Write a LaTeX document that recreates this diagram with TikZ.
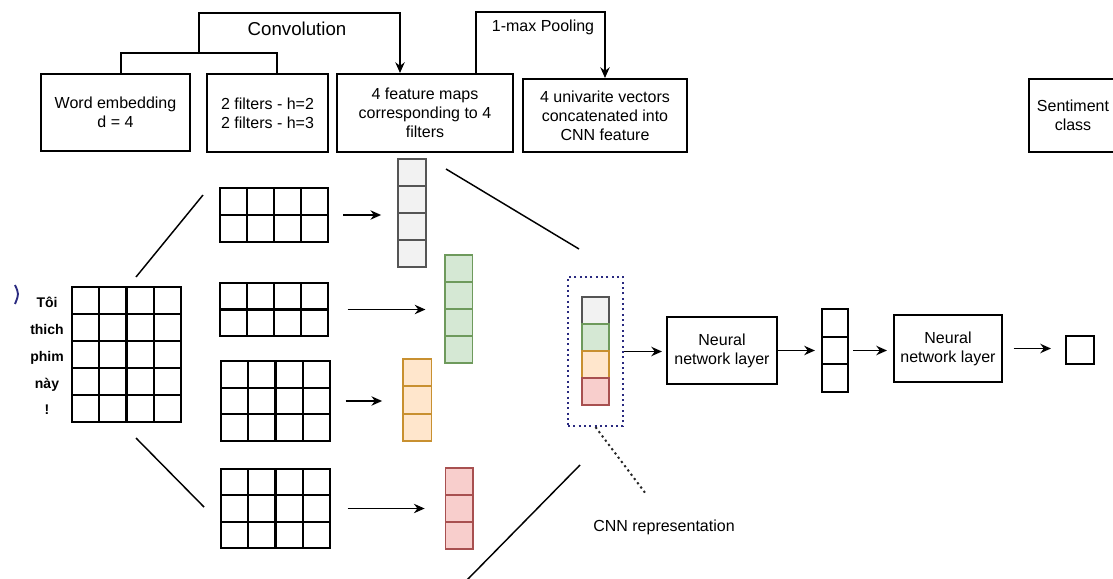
\documentclass[tikz,border=0pt]{standalone}
\usepackage{fontspec}
\setmainfont{Liberation Sans}
\usetikzlibrary{calc,arrows.meta}

\definecolor{grayfill}{HTML}{F2F2F2}
\definecolor{graydraw}{HTML}{555555}
\definecolor{greenfill}{HTML}{D5E8D4}
\definecolor{greendraw}{HTML}{6E9A5C}
\definecolor{orangefill}{HTML}{FFE6CC}
\definecolor{orangedraw}{HTML}{C89030}
\definecolor{redfill}{HTML}{F8CECC}
\definecolor{reddraw}{HTML}{A85050}
\definecolor{framecol}{HTML}{2A2A80}

\newcommand{\boxfont}{\fontsize{12}{14.25}\selectfont}
\newcommand{\convfont}{\fontsize{14}{16}\selectfont}
\newcommand{\wordfont}{\bfseries\fontsize{10.5}{12}\selectfont}

\tikzset{
  box/.style={draw, line width=1.5pt, align=center, inner sep=2pt, font=\boxfont},
  link/.style={line width=1.4pt},
  arr/.style={line width=1.4pt, -{Stealth[length=8pt, width=7pt]}},
  fan/.style={line width=1.1pt},
  gridcell/.style={draw=black, fill=white, line width=1.6pt},
  mapgray/.style={draw=graydraw, fill=grayfill, line width=1.3pt},
  mapgreen/.style={draw=greendraw, fill=greenfill, line width=1.3pt},
  maporange/.style={draw=orangedraw, fill=orangefill, line width=1.3pt},
  mapred/.style={draw=reddraw, fill=redfill, line width=1.3pt},
  cnnframe/.style={draw=framecol, line width=1.6pt, dash pattern=on 1.6pt off 2.4pt},
  leader/.style={draw=black!85, line width=1.5pt, dash pattern=on 1.6pt off 2.4pt},
  word/.style={font=\wordfont, anchor=base}
}

% name, left, bottom, cols, rows, cell width, cell height, style
\newcommand{\cellgrid}[8]{%
  \begin{scope}[shift={(#2,#3)}, x={(#6,0)}, y={(0,-#7)}]
    \node[#8, inner sep=0pt, minimum width={#4*#6*0.75pt}, minimum height={#5*#7*0.75pt}] (#1) at ({#4/2},{#5/2}) {};
    \draw[#8, fill=none, step=1] (0,0) grid (#4,#5);
  \end{scope}}

\begin{document}
\begin{tikzpicture}[x=0.75pt, y=-0.75pt]
\useasboundingbox (0,0) rectangle (1113,578);

% top row
\node[box, minimum width=111.75pt, minimum height=57.75pt] (emb) at (115.5,112.5) {Word embedding\\d = 4};
\node[box, minimum width=90.75pt, minimum height=58.5pt] (filt) at (267.5,113) {2 filters - h=2\\2 filters - h=3};
\node[box, minimum width=132pt, minimum height=58.5pt] (maps) at (425,113) {4 feature maps\\corresponding to 4\\filters};
\node[box, minimum width=123pt, minimum height=54.75pt] (univ) at (605,115.5) {4 univarite vectors\\concatenated into\\CNN feature};
\node[box, minimum width=66pt, minimum height=54.75pt] (sent) at (1073,115.5) {Sentiment\\class};

\node[font=\convfont] (conv) at (297,29) {Convolution};
\node[font=\boxfont] (pool) at (543,27) {1-max Pooling};

\draw[link] ($(emb.north)+(5.5,0)$) -- ++(0,-20) -| ($(filt.north)+(9.5,0)$);
\coordinate (convjoin) at (199,54);
\draw[arr] (convjoin) -- ++(0,-41) -| ($(maps.north)+(-25,0)$);
\draw[arr] ($(maps.north)+(51,0)$) -- ++(0,-61) -| (univ.north);

% input sentence
\cellgrid{inp}{72}{422}{4}{5}{27.25}{27}{gridcell}
\node[word] (w1) at (47,307) {Tôi};
\node[word] (w2) at (47,334) {thich};
\node[word] (w3) at (47,361) {phim};
\node[word] (w4) at (47,388) {này};
\node[word] (w5) at (47,414) {!};
\draw[framecol, line width=1.4pt] (15,285) .. controls (19,294) .. (15,304);

% filters
\cellgrid{fa}{220}{242}{4}{2}{27}{27}{gridcell}
\cellgrid{fb}{220}{336}{4}{2}{27}{26.5}{gridcell}
\cellgrid{fc}{221}{441}{4}{3}{27.25}{26.67}{gridcell}
\cellgrid{fd}{221}{548}{4}{3}{27.25}{26.33}{gridcell}
\draw[fan] (136,277) -- (203,195);
\draw[fan] (136,438) -- (204,507);

% feature maps
\cellgrid{ma}{398}{267}{1}{4}{28}{27}{mapgray}
\cellgrid{mb}{445}{363}{1}{4}{27.5}{27}{mapgreen}
\cellgrid{mc}{403}{441}{1}{3}{28.5}{27.33}{maporange}
\cellgrid{md}{445.5}{549}{1}{3}{27.5}{27}{mapred}
\foreach \f/\m/\s/\e in {fa/ma/10.5/12, fb/mb/14/14, fc/mc/11/15, fd/md/12.5/15}
  \draw[arr, shorten <=\s pt, shorten >=\e pt] (\f.east) -- (\f.east -| \m.west);
\draw[fan] (446,169) -- (579,249);
\draw[fan] (580,465) -- (467,580);

% CNN representation
\foreach \c [count=\i from 0] in {gray,green,orange,red}
  \draw[map\c] (582,{297+27*\i}) rectangle ++(27,27);
\node[inner sep=0pt, minimum width=20.25pt, minimum height=81pt] (cnn) at (595.5,351) {};
\node[cnnframe, inner sep=0pt, minimum width=41.25pt, minimum height=111.75pt] (cnnbox) at (595.5,351.5) {};
\node[font=\boxfont] (cnnlbl) at (664,527) {CNN representation};
\coordinate (lead) at (646,494);
\draw[leader] (cnnbox.south) -- (lead);

% dense layers
\node[box, minimum width=82.5pt, minimum height=50.25pt] (nna) at (722,350.5) {Neural\\network layer};
\cellgrid{hid}{822}{392}{1}{3}{26}{27.67}{gridcell}
\node[box, minimum width=81pt, minimum height=50.25pt] (nnb) at (948,348.5) {Neural\\network layer};
\node[box, inner sep=0pt, minimum size=21pt] (outp) at (1080,350) {};

\draw[arr, shorten >=3pt] (cnnbox.east) -- (cnnbox.east -| nna.west);
\draw[arr, shorten >=4.5pt] (nna.east) -- (nna.east -| hid.west);
\draw[arr, shorten <=3pt, shorten >=4.5pt] (hid.east) -- (hid.east -| nnb.west);
\draw[arr, shorten <=8pt, shorten >=10.5pt] (nnb.east) -- (nnb.east -| outp.west);

\end{tikzpicture}
\end{document}
